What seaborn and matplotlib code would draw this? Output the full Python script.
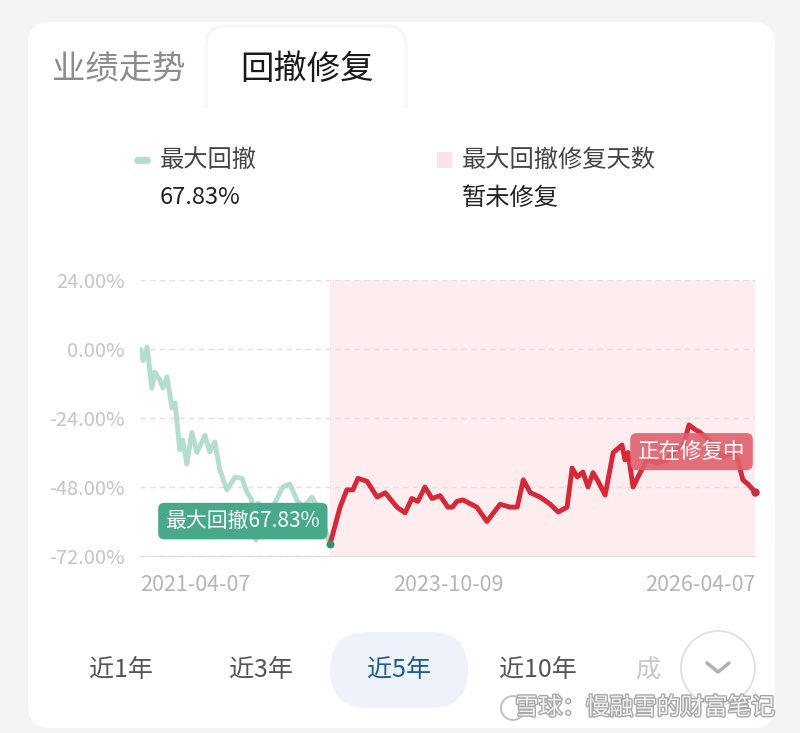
import matplotlib
matplotlib.use("Agg")
import matplotlib.pyplot as plt
import matplotlib.patheffects as pe
from matplotlib.patches import FancyBboxPatch, Rectangle, Circle
import pandas as pd
import seaborn as sns

sns.set_style("white")
plt.rcParams['font.family'] = ['Noto Sans CJK SC', 'DejaVu Sans']

# -----------------------------
# Data
# -----------------------------
# drawdown before the trough (green)
dd_dates = ['2021-04-07', '2021-04-16', '2021-04-28', '2021-05-12', '2021-05-21',
            '2021-06-05', '2021-06-14', '2021-06-26', '2021-07-11', '2021-07-20',
            '2021-08-03', '2021-08-12', '2021-08-24', '2021-09-08', '2021-09-23',
            '2021-10-17', '2021-10-31', '2021-11-15', '2021-11-30', '2021-12-21',
            '2022-01-14', '2022-02-04', '2022-02-18', '2022-03-05', '2022-03-17',
            '2022-03-23', '2022-04-28', '2022-06-05', '2022-06-26', '2022-07-17',
            '2022-08-04', '2022-08-31', '2022-09-23', '2022-10-23']
dd_values = [0.0, -4.0, 0.7, -13.6, -8.0,
             -10.8, -13.6, -9.7, -20.5, -18.8,
             -35.0, -31.7, -40.0, -29.0, -36.0,
             -30.0, -35.8, -32.3, -42.0, -49.0,
             -44.5, -45.0, -49.7, -52.5, -66.5,
             -53.6, -57.0, -48.0, -47.0, -52.5,
             -55.0, -51.5, -57.0, -67.83]

# recovery after the trough (red)
rec_dates = ['2022-10-23', '2022-10-29', '2022-11-22', '2022-12-12', '2022-12-30',
             '2023-01-14', '2023-02-10', '2023-03-12', '2023-04-05', '2023-05-10',
             '2023-06-03', '2023-06-23', '2023-07-11', '2023-08-01', '2023-08-22',
             '2023-09-15', '2023-10-08', '2023-10-22', '2023-11-04', '2023-11-22',
             '2024-01-02', '2024-02-01', '2024-03-11', '2024-04-10', '2024-05-01',
             '2024-05-19', '2024-06-09', '2024-07-08', '2024-08-07', '2024-08-31',
             '2024-09-26', '2024-10-11', '2024-10-26', '2024-11-12', '2024-11-27',
             '2024-12-12', '2024-12-27', '2025-01-17', '2025-02-10', '2025-03-08',
             '2025-03-17', '2025-03-26', '2025-04-10', '2025-05-01', '2025-05-21',
             '2025-06-20', '2025-07-20', '2025-08-06', '2025-09-05', '2025-09-23',
             '2025-10-11', '2025-10-26', '2025-11-15', '2025-12-03', '2026-01-02',
             '2026-02-01', '2026-02-15', '2026-03-02', '2026-03-17', '2026-04-07']
rec_values = [-67.83, -65.4, -55.0, -49.0, -49.0,
              -45.0, -46.0, -51.5, -50.0, -55.0,
              -57.0, -52.0, -53.0, -48.0, -52.0,
              -51.0, -55.0, -55.0, -53.0, -52.5,
              -55.0, -60.0, -54.0, -55.0, -55.0,
              -45.5, -50.0, -51.5, -54.0, -56.7,
              -55.0, -41.4, -44.5, -42.8, -48.0,
              -43.0, -46.0, -50.8, -36.0, -33.4,
              -38.6, -36.0, -48.0, -43.0, -38.6,
              -39.7, -38.6, -36.0, -34.0, -26.4,
              -28.0, -29.0, -31.0, -34.0, -37.6,
              -36.0, -38.6, -45.5, -47.0, -49.7]

y_ticks = [-72, -48, -24, 0, 24]
x_ticks = ['2021-04-07', '2023-10-09', '2026-04-07']
periods = ['近1年', '近3年', '近5年', '近10年', '成']

dd = pd.DataFrame({'date': pd.to_datetime(dd_dates), 'value': dd_values})
rec = pd.DataFrame({'date': pd.to_datetime(rec_dates), 'value': rec_values})

# -----------------------------
# Page / card background
# -----------------------------
fig = plt.figure(figsize=(8, 7.33), dpi=100)
fig.patch.set_facecolor('#f4f4f4')

bg = fig.add_axes([0, 0, 1, 1])
bg.set_xlim(0, 800)
bg.set_ylim(733, 0)
bg.axis('off')

bg.add_patch(FancyBboxPatch((28, 22), 747, 706, boxstyle='round,pad=0,rounding_size=22',
                            fc='white', ec='none'))
# faint active tab outline
bg.add_patch(FancyBboxPatch((206, 26), 200, 100, boxstyle='round,pad=0,rounding_size=20',
                            fc='white', ec='#f6f6f6', lw=2.5))
bg.add_patch(Rectangle((28, 108), 747, 30, fc='white', ec='none'))

# tabs
bg.text(52, 70, '业绩走势', fontsize=24, color='#8c8c8c', va='center')
bg.text(240, 70, '回撤修复', fontsize=24, color='#1a1a1a', va='center')

# legend
bg.plot([137, 147], [160, 160], color='#b3ddcf', lw=5, solid_capstyle='round')
bg.text(160, 160, '最大回撤', fontsize=17.5, color='#444444', va='center')
bg.text(160, 198, '67.83%', fontsize=17, color='#222222', va='center')
bg.add_patch(Rectangle((437, 152), 15, 16, fc='#fde2e5', ec='none'))
bg.text(462, 160, '最大回撤修复天数', fontsize=17.5, color='#444444', va='center')
bg.text(462, 198, '暂未修复', fontsize=17.5, color='#222222', va='center')

# period selector
bg.add_patch(FancyBboxPatch((330, 632), 138, 76, boxstyle='round,pad=0,rounding_size=38',
                            fc='#eef3fb', ec='none'))
for label, cx in zip(periods, [121, 261, 399, 538, 648]):
    col = '#1d5b94' if label == '近5年' else ('#c8c8c8' if label == '成' else '#555555')
    bg.text(cx, 670, label, fontsize=18, color=col, ha='center', va='center')
bg.add_patch(Circle((718, 668), 37, fc='white', ec='#dddddd', lw=1.2))
bg.plot([707, 718, 729], [663, 672, 663], color='#b0b0b0', lw=2.5,
        solid_capstyle='round', solid_joinstyle='round')

# watermark
bg.add_patch(Circle((513, 708), 12, fc='none', ec='#bdbdbd', lw=1.3))
wm = bg.text(775, 708, '雪球：慢融雪的财富笔记', fontsize=17, color='#f2f2f2',
             ha='right', va='center')
wm.set_path_effects([pe.withStroke(linewidth=2, foreground='#a8a8a8')])

# -----------------------------
# Drawdown chart
# -----------------------------
ax = fig.add_axes([140 / 800, 1 - 556 / 733, 615 / 800, 276 / 733])
ax.set_facecolor('none')

start = pd.Timestamp(x_ticks[0])
end = pd.Timestamp(x_ticks[-1])
trough = dd['date'].iloc[-1]

ax.axvspan(trough, end, color='#fdedef', zorder=0, lw=0)
sns.lineplot(data=dd, x='date', y='value', ax=ax, color='#b3ddcf', lw=3.5, zorder=3)
sns.lineplot(data=rec, x='date', y='value', ax=ax, color='#d62836', lw=3.5, zorder=4)
ax.scatter([trough], [dd['value'].iloc[-1]], s=22, color='#2f8f6f', zorder=6, clip_on=False)
ax.scatter([rec['date'].iloc[-1]], [rec['value'].iloc[-1]], s=26, color='#c23545',
           zorder=6, clip_on=False)

ax.set_xlim(start, end)
ax.set_ylim(-72, 24)
ax.set_yticks(y_ticks)
ax.set_yticklabels([f'{t:.2f}%' for t in y_ticks])
ax.set_xticks(pd.to_datetime(x_ticks))
ax.set_xticklabels(x_ticks)
labels = ax.get_xticklabels()
labels[0].set_ha('left')
labels[-1].set_ha('right')
ax.set_xlabel('')
ax.set_ylabel('')

ax.grid(axis='y', ls=(0, (4, 3)), color='#e0e0e0', lw=1)
ax.set_axisbelow(True)
for side in ['top', 'right', 'left']:
    ax.spines[side].set_visible(False)
ax.spines['bottom'].set_color('#dddddd')
ax.tick_params(axis='y', length=0, labelsize=14.5, labelcolor='#c4c4c4', pad=11)
ax.tick_params(axis='x', length=8, width=1, color='#dddddd', labelsize=15.5,
               labelcolor='#b5b5b5', pad=5)

# callouts
ax.annotate('最大回撤67.83%', xy=(trough, dd['value'].iloc[-1]), xytext=(-7, 16.5),
            textcoords='offset points', ha='right', va='center', fontsize=15,
            color='white', zorder=7,
            bbox=dict(boxstyle='round,pad=0.35,rounding_size=0.3', fc='#47a98a', ec='none'))
ax.annotate('正在修复中', xy=(rec['date'].iloc[-1], rec['value'].iloc[-1]), xytext=(-7, 29),
            textcoords='offset points', ha='right', va='center', fontsize=15.5,
            color='white', zorder=7,
            bbox=dict(boxstyle='round,pad=0.35,rounding_size=0.3', fc='#e0606d',
                      ec='none', alpha=0.9))

fig.savefig('out.png', dpi=100)
